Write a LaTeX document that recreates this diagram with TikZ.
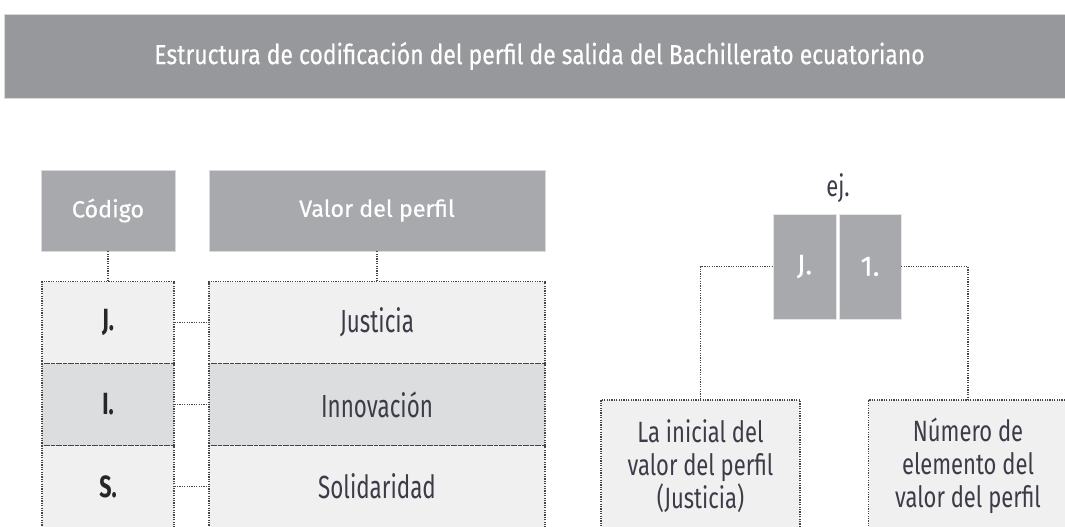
\documentclass[tikz,border=0pt]{standalone}
\usepackage{fontspec}
\setmainfont[FakeStretch=0.75]{Fira Sans}
\newfontfamily\titlefont[FakeStretch=0.83,FakeBold=0.5]{Fira Sans}
\newfontfamily\headfont[FakeBold=0.5]{Fira Sans}
\newfontfamily\rowfont[FakeStretch=0.7]{Fira Sans}

\definecolor{barfill}{HTML}{97989B}
\definecolor{headfill}{HTML}{A8A9AC}
\definecolor{rowlight}{HTML}{F0F0F0}
\definecolor{rowdark}{HTML}{DCDDDF}
\definecolor{dotline}{HTML}{464646}
\definecolor{txtgray}{HTML}{3C3C48}

\tikzset{
	titlebar/.style={fill=barfill, draw=black!15, text=white, minimum width=803.25pt, minimum height=63pt, font=\titlefont\fontsize{20.7}{24}\selectfont},
	headbox/.style={fill=headfill, draw=black!15, text=white, minimum height=60.75pt, font=\headfont\fontsize{17.5}{20}\selectfont},
	rowbox/.style={draw=dotline, line width=0.9pt, dash pattern=on 0.9pt off 0.9pt, minimum height=61.5pt, text=txtgray, font=\rowfont\fontsize{24}{26}\selectfont},
	keybox/.style={fill=headfill, draw=black!10, text=white, minimum height=78.75pt, font=\headfont\fontsize{21}{24}\selectfont},
	notebox/.style={rowbox, fill=rowlight, minimum width=149.25pt, minimum height=99pt, align=center, font=\fontsize{22}{24.75}\selectfont},
	link/.style={draw=dotline, line width=0.9pt, dash pattern=on 0.9pt off 0.9pt},
}

\begin{document}
\begin{tikzpicture}[x=0.75pt,y=-0.75pt]
	\useasboundingbox (0,0) rectangle (1065,526);
	\clip (0,0) rectangle (1065,526);
	\node[titlebar] (titulo) at (539.5,56) {Estructura de codificación del perfil de salida del Bachillerato ecuatoriano};
	% tabla de codigos
	\node[headbox, minimum width=100.5pt] (codigo) at (108,210.5) {Código};
	\node[headbox, minimum width=252pt] (valor) at (377,210.5) {Valor del perfil};
	\foreach \n/\c/\v/\y/\f in {1/J./Justicia/322.5/rowlight, 2/I./Innovación/404.5/rowdark, 3/S./Solidaridad/486.5/rowlight} {
		\node[rowbox, fill=\f, minimum width=99pt, text=black!85, font=\rowfont\fontsize{23}{26}\selectfont\bfseries] (c\n) at (108,\y) {\c};
		\node[rowbox, fill=\f, minimum width=252pt] (v\n) at (377,\y) {\v};
		\draw[link] (c\n) -- (v\n);
	}
	\draw[link] (codigo) -- (c1);
	\draw[link] (valor) -- (v1);
	% ejemplo
	\node[text=txtgray, font=\fontsize{22}{26}\selectfont] (ej) at (838,188) {ej.};
	\node[keybox, minimum width=47.25pt] (kj) at (804.5,266.5) {J.};
	\node[keybox, minimum width=46.5pt] (k1) at (870,266.5) {1.};
	\node[notebox] (nota1) at (700.5,466) {La inicial del\\valor del perfil\\(Justicia)};
	\node[notebox] (nota2) at (968,466) {Número de\\elemento del\\valor del perfil};
	\draw[link] (kj.west) -| (nota1.north);
	\draw[link] (k1.east) -| (nota2.north);
\end{tikzpicture}
\end{document}
